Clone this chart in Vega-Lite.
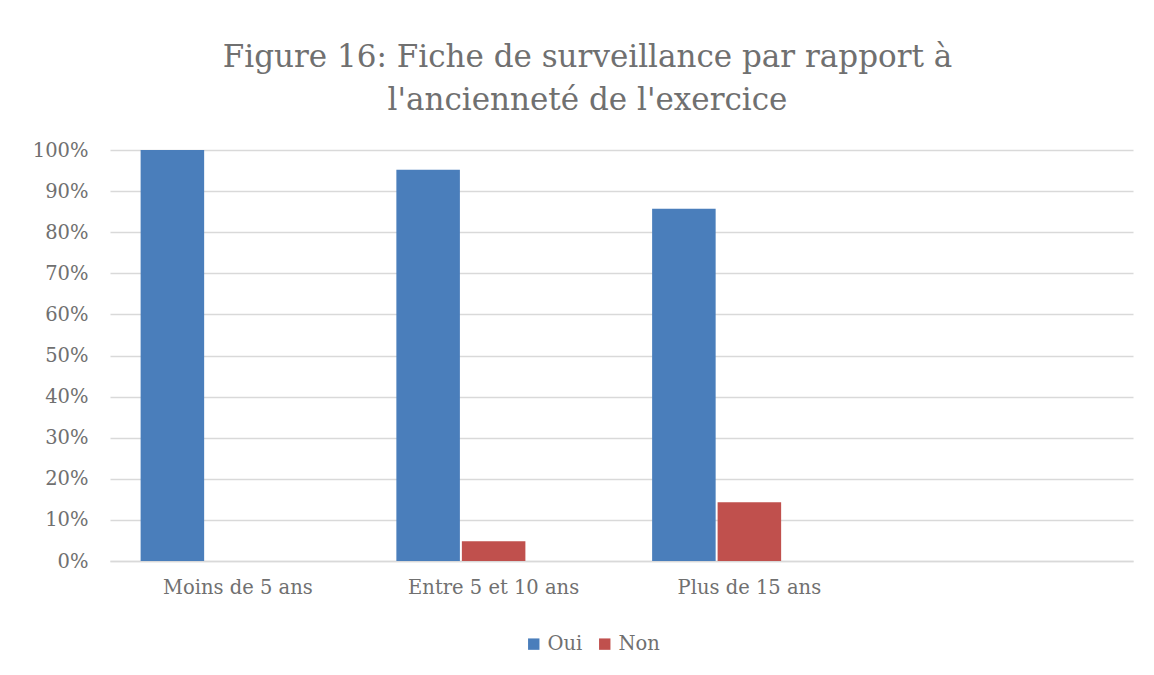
{
  "$schema": "https://vega.github.io/schema/vega-lite/v6.json",
  "width": 1023,
  "height": 411,
  "autosize": {"type": "none"},
  "padding": {"left": 110, "top": 150, "right": 21, "bottom": 114},
  "background": "white",
  "title": {
    "text": ["Figure 16: Fiche de surveillance par rapport à", "l'ancienneté de l'exercice"],
    "font": "DejaVu Serif",
    "fontSize": 31,
    "fontWeight": "normal",
    "color": "#707070",
    "lineHeight": 43,
    "anchor": "middle",
    "frame": "group",
    "dx": -34,
    "offset": 23
  },
  "data": {
    "values": [
      {"anciennete": "Moins de 5 ans", "reponse": "Oui", "part": 1.0},
      {"anciennete": "Moins de 5 ans", "reponse": "Non", "part": 0.0},
      {"anciennete": "Entre 5 et 10 ans", "reponse": "Oui", "part": 0.952},
      {"anciennete": "Entre 5 et 10 ans", "reponse": "Non", "part": 0.048},
      {"anciennete": "Plus de 15 ans", "reponse": "Oui", "part": 0.857},
      {"anciennete": "Plus de 15 ans", "reponse": "Non", "part": 0.143}
    ]
  },
  "mark": {"type": "bar"},
  "encoding": {
    "x": {
      "field": "anciennete",
      "type": "nominal",
      "sort": null,
      "scale": {"domain": ["Moins de 5 ans", "Entre 5 et 10 ans", "Plus de 15 ans", " "], "paddingInner": 0, "paddingOuter": 0},
      "axis": {
        "title": null,
        "labelAngle": 0,
        "labelFont": "DejaVu Serif",
        "labelFontSize": 19.5,
        "labelColor": "#707070",
        "labelPadding": 17,
        "ticks": false,
        "domainColor": "#d9d9d9",
        "domainWidth": 1.5,
        "grid": false
      }
    },
    "xOffset": {
      "field": "reponse",
      "type": "nominal",
      "scale": {"domain": ["Oui", "Non", "_"], "paddingInner": 0.03, "paddingOuter": 0.4675}
    },
    "y": {
      "field": "part",
      "type": "quantitative",
      "scale": {"domain": [0, 1]},
      "axis": {
        "title": null,
        "format": ".0%",
        "values": [0, 0.1, 0.2, 0.3, 0.4, 0.5, 0.6, 0.7, 0.8, 0.9, 1.0],
        "labelFont": "DejaVu Serif",
        "labelFontSize": 19.5,
        "labelColor": "#707070",
        "labelPadding": 22,
        "ticks": false,
        "domain": false,
        "gridColor": "#d9d9d9",
        "gridWidth": 1.5
      }
    },
    "color": {
      "field": "reponse",
      "type": "nominal",
      "scale": {"domain": ["Oui", "Non"], "range": ["#4a7ebb", "#c0504d"]},
      "legend": {
        "title": null,
        "orient": "none",
        "direction": "horizontal",
        "legendX": 414,
        "legendY": 484,
        "symbolType": "square",
        "symbolSize": 130,
        "symbolStrokeWidth": 0,
        "labelFont": "DejaVu Serif",
        "labelFontSize": 19.5,
        "labelColor": "#707070",
        "labelOffset": 4,
        "columnPadding": 12
      }
    }
  },
  "config": {"view": {"stroke": null}}
}
